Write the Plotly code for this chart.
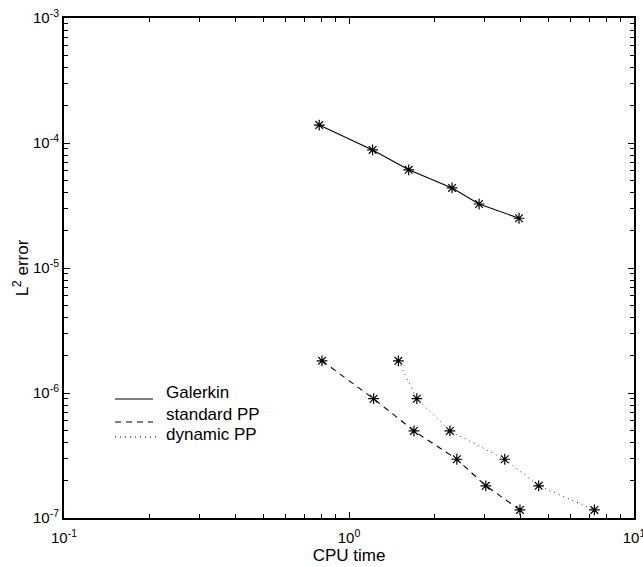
import plotly.graph_objects as go

# ---- data ----
galerkin_cpu = [0.786, 1.21, 1.62, 2.30, 2.86, 3.95]
galerkin_err = [1.39e-4, 8.8e-5, 6.1e-5, 4.37e-5, 3.25e-5, 2.5e-5]

standard_cpu = [0.804, 1.22, 1.69, 2.39, 3.02, 3.98]
standard_err = [1.81e-6, 9.0e-7, 4.97e-7, 2.95e-7, 1.81e-7, 1.16e-7]

dynamic_cpu = [1.49, 1.73, 2.26, 3.52, 4.63, 7.26]
dynamic_err = [1.81e-6, 9.0e-7, 4.97e-7, 2.95e-7, 1.81e-7, 1.16e-7]

series_names = ["Galerkin", "standard PP", "dynamic PP"]

x_tickvals = [0.1, 1, 10]
x_ticktext = ["10<sup>-1</sup>", "10<sup>0</sup>", "10<sup>1</sup>"]
y_tickvals = [1e-7, 1e-6, 1e-5, 1e-4, 1e-3]
y_ticktext = ["10<sup>-7</sup>", "10<sup>-6</sup>", "10<sup>-5</sup>", "10<sup>-4</sup>", "10<sup>-3</sup>"]

minor_mult = [2, 3, 4, 5, 6, 7, 8, 9]
x_minor = [m * d for d in x_tickvals[:-1] for m in minor_mult]
y_minor = [m * d for d in y_tickvals[:-1] for m in minor_mult]

FONT = "Liberation Sans, Arial, sans-serif"

marker = dict(symbol="asterisk-open", size=9, color="black",
              line=dict(color="black", width=1.2))

fig = go.Figure()
fig.add_trace(go.Scatter(x=galerkin_cpu, y=galerkin_err, mode="lines+markers",
                         line=dict(color="black", width=1.1), marker=marker,
                         name=series_names[0], showlegend=False))
fig.add_trace(go.Scatter(x=standard_cpu, y=standard_err, mode="lines+markers",
                         line=dict(color="black", width=1.1, dash="6px,5px"), marker=marker,
                         name=series_names[1], showlegend=False))
fig.add_trace(go.Scatter(x=dynamic_cpu, y=dynamic_err, mode="lines+markers",
                         line=dict(color="#333333", width=1, dash="1px,4px"), marker=marker,
                         name=series_names[2], showlegend=False))
# empty helper trace so the overlay axes (minor ticks) are drawn
fig.add_trace(go.Scatter(x=[None], y=[None], xaxis="x2", yaxis="y2", mode="markers",
                         showlegend=False, hoverinfo="skip"))

# ---- manual legend (MATLAB style, no box) ----
L, T, PW, PH = 64, 18, 570, 500
def px(xp):
    return (xp - L) / PW
def py(yp):
    return (T + PH - yp) / PH

legend_rows = [
    (series_names[0], "solid", 153, 399, 392),
    (series_names[1], "6px,5px", 153, 422, 414),
    (series_names[2], "1px,4px", 157, 437, 434),
]
for name, dash, x1, ly, ty in legend_rows:
    fig.add_shape(type="line", xref="paper", yref="paper",
                  x0=px(115), x1=px(x1), y0=py(ly), y1=py(ly),
                  line=dict(color="black", width=1.1, dash=dash))
    fig.add_annotation(xref="paper", yref="paper", x=px(164), y=py(ty),
                       text=name, showarrow=False, xanchor="left", yanchor="middle",
                       font=dict(family=FONT, size=17, color="black"))

axis_common = dict(
    type="log", showline=True, linecolor="black", linewidth=2, mirror="ticks",
    ticks="inside", tickwidth=1, tickcolor="black",
    showgrid=False, zeroline=False, automargin=False,
)

fig.update_layout(
    xaxis=dict(**axis_common, range=[-1, 1], ticklen=6, tickvals=x_tickvals, ticktext=x_ticktext,
               tickfont=dict(family=FONT, size=15, color="black"), ticklabelstandoff=5,
               ticklabeloverflow="allow",
               title=dict(text="CPU time", font=dict(family=FONT, size=17, color="black"),
                          standoff=1)),
    yaxis=dict(**axis_common, range=[-7, -3], ticklen=6, tickvals=y_tickvals, ticktext=y_ticktext,
               tickfont=dict(family=FONT, size=15, color="black"), ticklabeloverflow="allow",
               title=dict(text="L<sup>2</sup> error", font=dict(family=FONT, size=17, color="black"),
                          standoff=0)),
    xaxis2=dict(**axis_common, range=[-1, 1], ticklen=4, tickvals=x_minor,
                showticklabels=False, overlaying="x", anchor="y2", side="bottom"),
    yaxis2=dict(**axis_common, range=[-7, -3], ticklen=4, tickvals=y_minor,
                showticklabels=False, overlaying="y", anchor="x2", side="left"),
    width=643, height=567,
    margin=dict(l=L, r=643 - L - PW, t=T, b=567 - T - PH, autoexpand=False),
    plot_bgcolor="white", paper_bgcolor="white",
    showlegend=False,
)

fig.write_html("out.html")
